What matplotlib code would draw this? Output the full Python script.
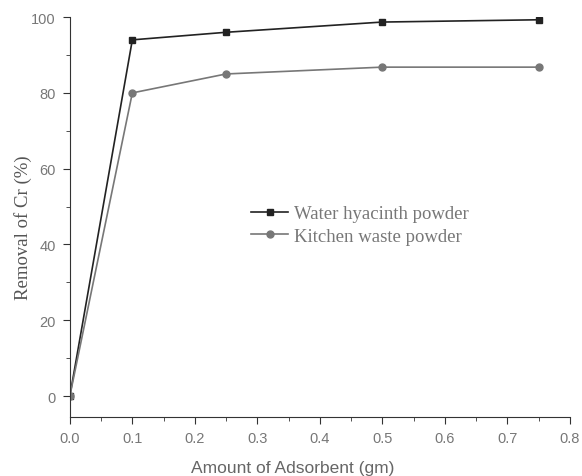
import matplotlib
matplotlib.use("Agg")
import matplotlib.pyplot as plt
from matplotlib.ticker import MultipleLocator

x = [0.0, 0.1, 0.25, 0.5, 0.75]
water = [0.0, 94.0, 96.0, 98.7, 99.3]
kitchen = [0.0, 80.0, 85.0, 86.8, 86.8]
labels = ["Water hyacinth powder", "Kitchen waste powder"]

fig = plt.figure(figsize=(5.82, 4.77), dpi=100)
ax = fig.add_axes([0.12, 0.124, 0.859, 0.838])
ax.plot(x, water, color="#222222", lw=1.2, marker="s", ms=5, label=labels[0])
ax.plot(x, kitchen, color="#777777", lw=1.2, marker="o", ms=5, label=labels[1])

ax.set_xlim(0, 0.8)
ax.set_ylim(-5.5, 100)
ax.xaxis.set_minor_locator(MultipleLocator(0.05))
ax.yaxis.set_minor_locator(MultipleLocator(10))
ax.set_yticks([0, 20, 40, 60, 80, 100])
ax.set_xticks([0.0, 0.1, 0.2, 0.3, 0.4, 0.5, 0.6, 0.7, 0.8])
ax.set_xticklabels([f"{v:.1f}" for v in ax.get_xticks()])
for s in ["top", "right"]:
    ax.spines[s].set_visible(False)
for s in ["left", "bottom"]:
    ax.spines[s].set_color("#333333")
ax.tick_params(which="both", direction="out", colors="#333333", labelcolor="#777777",
               labelsize=10.5)
ax.tick_params(which="major", length=5, pad=5)
ax.tick_params(which="minor", length=3)
for t in ax.get_xticklabels() + ax.get_yticklabels():
    t.set_fontfamily("Liberation Sans")

ax.set_xlabel("Amount of Adsorbent (gm)", fontfamily="Liberation Sans", fontsize=12.5,
              color="#666666")
ax.xaxis.set_label_coords(0.446, -0.107)
ax.set_ylabel("Removal of Cr (%)", fontfamily="Liberation Serif", fontsize=13.5,
              color="#555555")
ax.yaxis.set_label_coords(-0.075, 0.475)

leg = ax.legend(loc="center", bbox_to_anchor=(0.58, 0.48), frameon=False,
                prop={"family": "Liberation Serif", "size": 13.5}, handlelength=2.0,
                handletextpad=0.3, labelspacing=0.3)
for t in leg.get_texts():
    t.set_color("#777777")

fig.savefig("out.png", dpi=100)
